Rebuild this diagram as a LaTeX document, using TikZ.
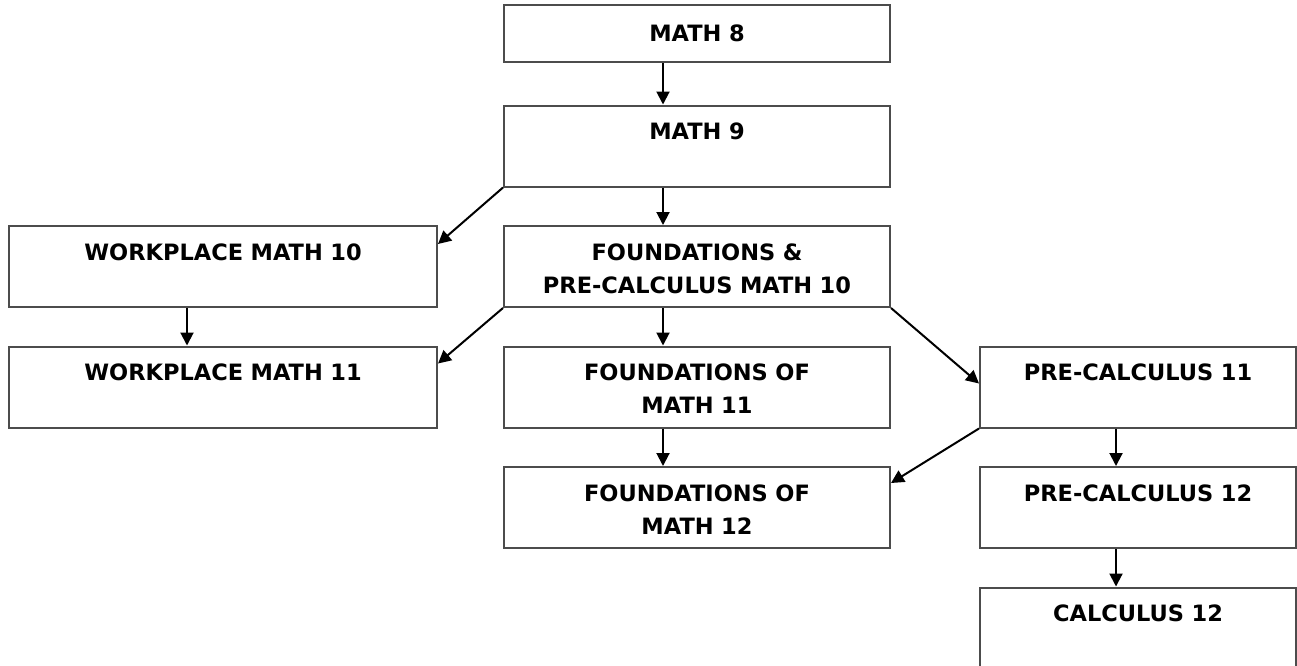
\documentclass[tikz,border=0pt]{standalone}
\usepackage{fontspec}
\setmainfont{DejaVu Sans}
\usepackage{tikz}
\usetikzlibrary{arrows.meta}
\tikzstyle{course} = [rectangle, draw=black!70, line width=2pt, inner sep=0pt, align=center, text width=386pt, text height=34pt, text depth=47pt, font=\fontsize{22.5}{33}\selectfont\bfseries]
\tikzstyle{arrow} = [line width=2pt, -{Triangle[length=13pt,width=13pt]}]

\begin{document}
\begin{tikzpicture}[x=1pt, y=-1pt, node distance=120.5pt]
		\clip (0,0) rectangle (1297,665);
		\node (m8) [course, text height=36pt, text depth=21pt] at (697,33.5) {MATH 8};
		\node (m9) [course, below of=m8, yshift=8pt] {MATH 9};
		\node (fp10) [course, below of=m9] {FOUNDATIONS \&\\PRE-CALCULUS MATH 10};
		\node (wp10) [course, left of=fp10, xshift=-353.5pt, text width=428pt] {WORKPLACE MATH 10};
		\node (fm11) [course, below of=fp10] {FOUNDATIONS OF\\MATH 11};
		\node (wp11) [course, below of=wp10, text width=428pt] {WORKPLACE MATH 11};
		\node (pc11) [course, right of=fm11, xshift=320.5pt, text width=316pt] {PRE-CALCULUS 11};
		\node (fm12) [course, below of=fm11] {FOUNDATIONS OF\\MATH 12};
		\node (pc12) [course, below of=pc11, text width=316pt] {PRE-CALCULUS 12};
		\node (c12) [course, below of=pc12, text width=316pt] {CALCULUS 12};
		
		
		\draw [arrow] ([xshift=-34pt]m8.south) -- ([xshift=-34pt]m9.north);
		\draw [arrow] ([xshift=-34pt]m9.south) -- ([xshift=-34pt]fp10.north);
		\draw [arrow] (m9.south west) -- ([yshift=-19pt]wp10.north east);
		\draw [arrow] ([xshift=-36pt]wp10.south) -- ([xshift=-36pt]wp11.north);
		\draw [arrow] (fp10.south west) -- ([yshift=-18pt]wp11.north east);
		\draw [arrow] ([xshift=-34pt]fp10.south) -- ([xshift=-34pt]fm11.north);
		\draw [arrow] (fp10.south east) -- ([yshift=-38pt]pc11.north west);
		\draw [arrow] ([xshift=-34pt]fm11.south) -- ([xshift=-34pt]fm12.north);
		\draw [arrow] (pc11.south west) -- ([yshift=-17pt]fm12.north east);
		\draw [arrow] ([xshift=-22pt]pc11.south) -- ([xshift=-22pt]pc12.north);
		\draw [arrow] ([xshift=-22pt]pc12.south) -- ([xshift=-22pt]c12.north);
	\end{tikzpicture}
\end{document}
